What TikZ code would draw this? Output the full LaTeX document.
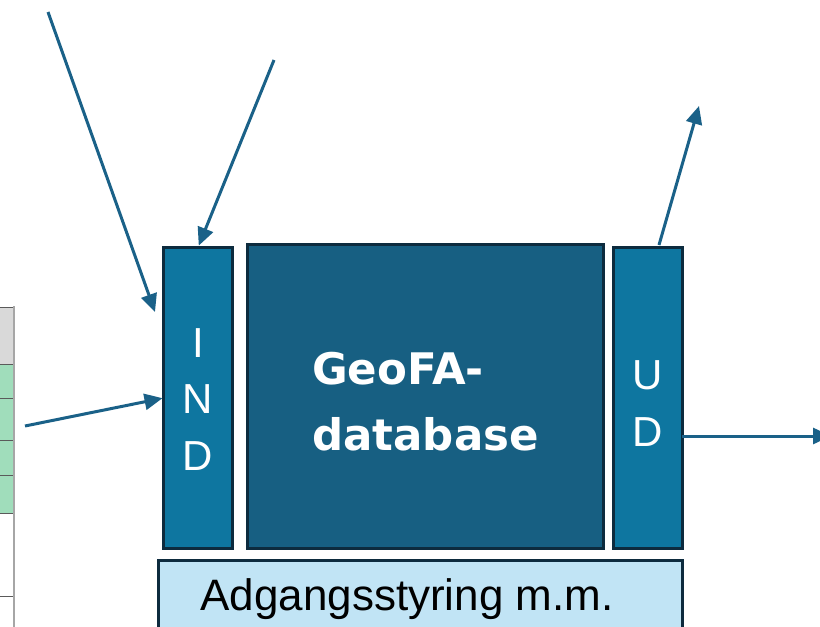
\documentclass[tikz,border=0pt]{standalone}
\usepackage{fontspec}
\setmainfont{Liberation Sans}
\newfontfamily\geofont{DejaVu Sans}
\usetikzlibrary{arrows.meta}
\definecolor{sidefill}{RGB}{14,118,160}
\definecolor{corefill}{RGB}{23,95,130}
\definecolor{edgecol}{RGB}{13,43,62}
\definecolor{accfill}{RGB}{193,228,245}
\definecolor{arrcol}{RGB}{26,97,136}
\definecolor{tabgray}{RGB}{217,217,217}
\definecolor{tabgreen}{RGB}{160,221,187}
\definecolor{tabline}{RGB}{90,90,90}
\definecolor{tabedge}{RGB}{166,166,166}
\tikzset{
  box/.style={draw=edgecol, line width=3pt, outer sep=0pt, inner sep=0pt, anchor=north west},
  sidebox/.style={box, fill=sidefill},
  corebox/.style={box, fill=corefill},
  accbox/.style={box, fill=accfill},
  letter/.style={text=white, font=\fontsize{42}{50}\selectfont, anchor=base, inner sep=0pt},
  arr/.style={draw=arrcol, line width=3pt, -{Triangle[length=18pt,width=16pt]}}
}
\begin{document}
\begin{tikzpicture}[x=1pt,y=-1pt]
\clip (0,0) rectangle (820,627);
\fill[white] (0,0) rectangle (820,627);
% partial table at left edge
\fill[tabgray] (0,307) rectangle (13,364);
\fill[tabgreen] (0,364) rectangle (13,513);
\foreach \yy in {307,364,398,440,475,513,596} \draw[tabline, line width=1pt] (0,\yy) -- (13,\yy);
\draw[tabedge, line width=2pt] (13.5,306) -- (13.5,627);
% boxes
\node[sidebox, minimum width=69pt, minimum height=301pt] (ind) at (163.5,247.5) {};
\node[corebox, minimum width=356pt, minimum height=304pt] (core) at (247.5,244.5) {};
\node[sidebox, minimum width=69pt, minimum height=301pt] (ud) at (613.5,247.5) {};
\node[accbox, minimum width=524pt, minimum height=120pt] (acc) at (158.5,560.5) {};
% texts
\node[letter] (indI) at (198,357) {I};
\node[letter] (indN) at (198,413) {N};
\node[letter] (indD) at (198,470) {D};
\node[letter] (udU) at (648,389) {U};
\node[letter] (udD) at (648,446) {D};
\node[text=white, font=\geofont\bfseries\fontsize{43.5}{50}\selectfont, anchor=base west, inner sep=0pt] (geo1) at (312,384) {GeoFA-};
\node[text=white, font=\geofont\bfseries\fontsize{43.5}{50}\selectfont, anchor=base west, inner sep=0pt] (geo2) at (312,450) {database};
\node[text=black, font=\fontsize{44}{50}\selectfont, anchor=base, inner sep=0pt] (acctext) at (407,610) {Adgangsstyring m.m.};
% arrows
\coordinate (s1) at (48,12);
\coordinate (e1) at (155,312);
\coordinate (s2) at (274,60);
\coordinate (s3) at (25,426);
\coordinate (s4) at (659,245);
\coordinate (e4) at (699,106);
\coordinate (s5) at (682,436);
\coordinate (e5) at (831,436);
\draw[arr] (s1) -- (e1);
\draw[arr, shorten >=2pt] (s2) -- (ind.north);
\draw[arr, shorten >=1pt] (s3) -- (ind.west);
\draw[arr] (s4) -- (e4);
\draw[arr] (s5) -- (e5);
\end{tikzpicture}
\end{document}
